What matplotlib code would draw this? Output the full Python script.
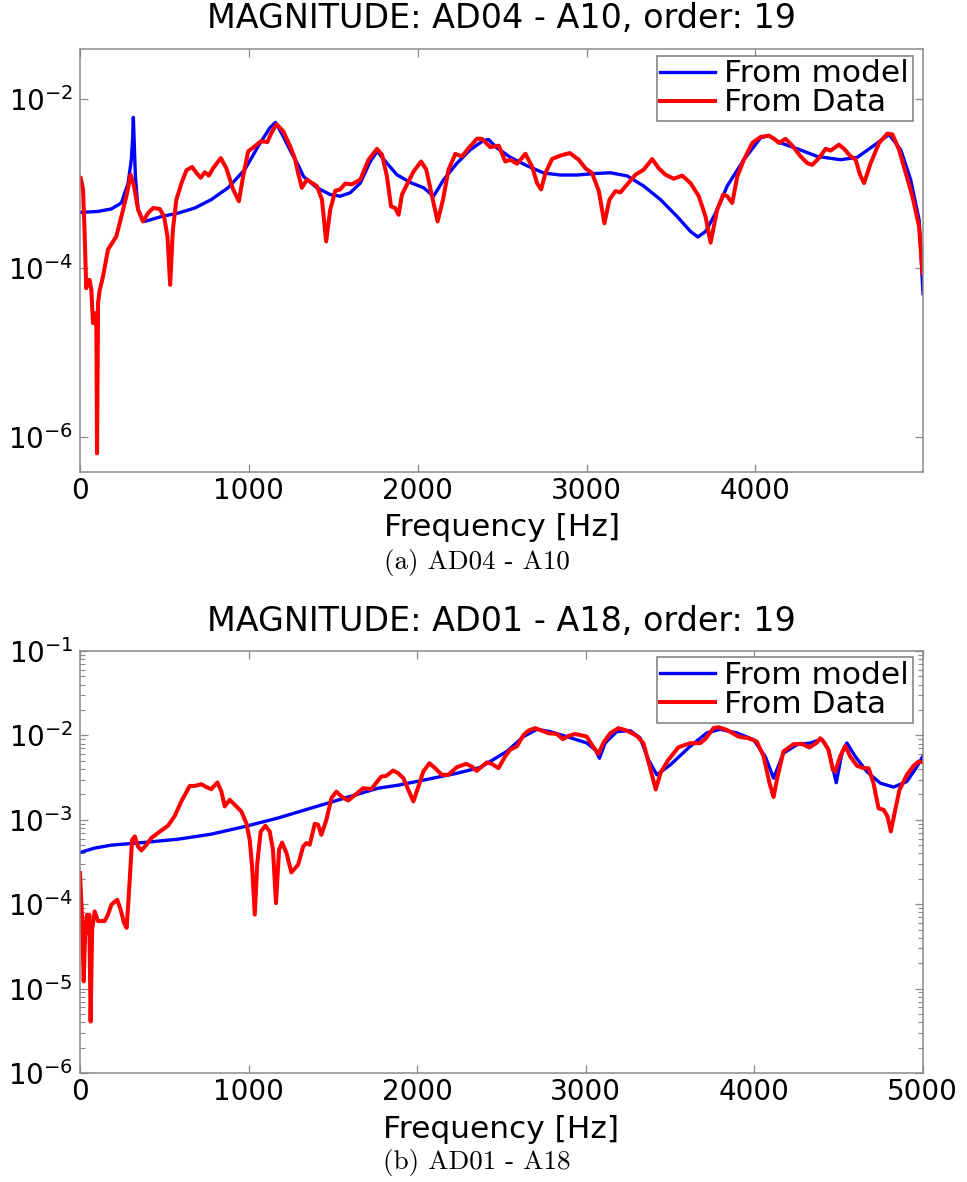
import matplotlib
matplotlib.use("Agg")
import matplotlib.pyplot as plt
from matplotlib.ticker import FixedLocator, LogLocator, NullLocator, NullFormatter

# ---------------------------------------------------------------- data
# (a) AD04 - A10 : identified model vs. measured FRF magnitude
freq_a_model = [0, 107, 186, 245, 285, 304, 312, 316, 320, 328,
                344, 373, 383, 482, 581, 680, 778, 877, 976, 1055,
                1124, 1158, 1203, 1253, 1292, 1324, 1403, 1482, 1541, 1600,
                1660, 1719, 1760, 1818, 1877, 1956, 2035, 2094, 2154, 2233,
                2312, 2391, 2420, 2470, 2549, 2648, 2747, 2845, 2944, 3043,
                3142, 3241, 3339, 3438, 3537, 3616, 3660, 3705, 3754, 3794,
                3833, 3932, 4031, 4080, 4150, 4249, 4367, 4505, 4604, 4703,
                4792, 4861, 4920, 4970, 4993]
mag_a_model = [4.55e-4, 4.68e-4, 5.01e-4, 5.89e-4, 1.01e-3, 1.91e-3, 3.55e-3, 6.05e-3, 3.55e-3, 1.21e-3,
               4.90e-4, 3.66e-4, 3.56e-4, 4.07e-4, 4.47e-4, 5.13e-4, 6.46e-4, 8.91e-4, 1.46e-3, 2.75e-3,
               4.54e-3, 5.28e-3, 3.63e-3, 2.29e-3, 1.66e-3, 1.21e-3, 8.91e-4, 7.41e-4, 7.08e-4, 7.76e-4,
               1.01e-3, 1.82e-3, 2.40e-3, 1.74e-3, 1.27e-3, 1.03e-3, 8.91e-4, 7.08e-4, 1.11e-3, 1.74e-3,
               2.51e-3, 3.24e-3, 3.31e-3, 2.63e-3, 2.04e-3, 1.62e-3, 1.33e-3, 1.26e-3, 1.26e-3, 1.31e-3,
               1.34e-3, 1.23e-3, 9.33e-4, 6.46e-4, 4.07e-4, 2.71e-4, 2.33e-4, 2.71e-4, 4.07e-4, 6.03e-4,
               9.33e-4, 1.91e-3, 3.47e-3, 3.68e-3, 3.02e-3, 2.57e-3, 2.09e-3, 1.91e-3, 2.04e-3, 2.82e-3,
               3.80e-3, 2.51e-3, 1.11e-3, 3.72e-4, 5.01e-5]

freq_a_data = [4, 18, 28, 37, 47, 57, 67, 77, 87, 97,
               101, 107, 117, 136, 166, 196, 215, 245, 275, 300,
               320, 344, 373, 403, 433, 472, 498, 518, 534, 550,
               571, 601, 630, 664, 690, 715, 739, 763, 788, 834,
               867, 907, 941, 966, 996, 1035, 1071, 1110, 1134, 1164,
               1203, 1245, 1275, 1292, 1314, 1344, 1403, 1433, 1458, 1482,
               1512, 1541, 1571, 1610, 1660, 1709, 1759, 1789, 1818, 1842,
               1867, 1887, 1907, 1937, 1976, 2020, 2051, 2085, 2118, 2150,
               2183, 2223, 2263, 2302, 2352, 2381, 2430, 2480, 2519, 2549,
               2589, 2638, 2678, 2707, 2731, 2757, 2796, 2845, 2901, 2954,
               2994, 3033, 3073, 3106, 3136, 3171, 3201, 3241, 3290, 3339,
               3389, 3428, 3468, 3517, 3567, 3616, 3665, 3705, 3735, 3774,
               3810, 3833, 3863, 3893, 3932, 3982, 4031, 4080, 4110, 4139,
               4179, 4219, 4268, 4308, 4337, 4377, 4416, 4446, 4495, 4525,
               4565, 4594, 4620, 4644, 4683, 4733, 4782, 4812, 4851, 4891,
               4930, 4970, 4990]
mag_a_data = [1.16e-3, 8.51e-4, 2.37e-4, 5.79e-5, 7.24e-5, 7.24e-5, 5.53e-5, 2.24e-5, 2.95e-5, 2.04e-5,
              6.46e-7, 3.89e-5, 5.53e-5, 7.94e-5, 1.66e-4, 2.07e-4, 2.37e-4, 4.07e-4, 7.08e-4, 1.27e-3,
              9.33e-4, 4.90e-4, 3.56e-4, 4.47e-4, 5.13e-4, 5.01e-4, 4.07e-4, 2.37e-4, 6.34e-5, 2.84e-4,
              6.46e-4, 1.01e-3, 1.43e-3, 1.57e-3, 1.33e-3, 1.17e-3, 1.36e-3, 1.24e-3, 1.51e-3, 2.00e-3,
              1.51e-3, 8.51e-4, 6.17e-4, 1.21e-3, 2.40e-3, 2.75e-3, 3.16e-3, 3.09e-3, 3.98e-3, 5.01e-3,
              4.17e-3, 2.75e-3, 1.91e-3, 1.32e-3, 8.91e-4, 1.11e-3, 9.33e-4, 6.46e-4, 2.07e-4, 4.90e-4,
              8.22e-4, 8.51e-4, 1.00e-3, 9.77e-4, 1.11e-3, 1.91e-3, 2.57e-3, 2.19e-3, 1.21e-3, 5.37e-4,
              5.13e-4, 4.27e-4, 7.41e-4, 9.77e-4, 1.39e-3, 1.82e-3, 1.46e-3, 7.08e-4, 3.56e-4, 6.46e-4,
              1.46e-3, 2.24e-3, 2.09e-3, 2.63e-3, 3.39e-3, 3.37e-3, 2.69e-3, 2.80e-3, 1.82e-3, 1.91e-3,
              1.71e-3, 2.25e-3, 1.58e-3, 1.01e-3, 8.51e-4, 1.33e-3, 1.95e-3, 2.14e-3, 2.29e-3, 1.91e-3,
              1.51e-3, 1.33e-3, 8.13e-4, 3.39e-4, 6.46e-4, 8.13e-4, 7.85e-4, 9.77e-4, 1.27e-3, 1.46e-3,
              1.95e-3, 1.51e-3, 1.27e-3, 1.14e-3, 1.24e-3, 1.01e-3, 7.08e-4, 4.07e-4, 2.00e-4, 4.90e-4,
              7.41e-4, 7.08e-4, 5.89e-4, 1.21e-3, 1.91e-3, 3.02e-3, 3.55e-3, 3.68e-3, 3.39e-3, 3.02e-3,
              3.37e-3, 2.80e-3, 2.09e-3, 1.74e-3, 1.66e-3, 2.00e-3, 2.57e-3, 2.45e-3, 2.88e-3, 2.57e-3,
              2.09e-3, 1.91e-3, 1.27e-3, 1.01e-3, 1.74e-3, 3.02e-3, 3.89e-3, 3.80e-3, 2.51e-3, 1.33e-3,
              7.08e-4, 3.09e-4, 8.71e-5]

# (b) AD01 - A18
freq_b_model = [0, 87, 186, 384, 582, 779, 977, 1175, 1373, 1571,
                1769, 1887, 2037, 2236, 2374, 2433, 2533, 2631, 2711, 2789,
                2888, 3007, 3057, 3082, 3116, 3185, 3264, 3323, 3373, 3423,
                3502, 3620, 3719, 3798, 3897, 3996, 4066, 4115, 4174, 4254,
                4333, 4402, 4441, 4487, 4521, 4550, 4600, 4669, 4748, 4827,
                4906, 4966, 5000]
mag_b_model = [4.10e-4, 4.62e-4, 5.01e-4, 5.40e-4, 5.89e-4, 6.76e-4, 8.32e-4, 1.05e-3, 1.38e-3, 1.81e-3,
               2.37e-3, 2.57e-3, 2.95e-3, 3.56e-3, 4.17e-3, 4.90e-3, 6.46e-3, 9.68e-3, 1.18e-2, 1.11e-2,
               9.68e-3, 8.13e-3, 6.76e-3, 5.37e-3, 8.13e-3, 1.11e-2, 1.14e-2, 9.33e-3, 5.13e-3, 3.41e-3,
               4.47e-3, 7.41e-3, 1.07e-2, 1.18e-2, 1.07e-2, 8.91e-3, 5.62e-3, 3.11e-3, 6.17e-3, 7.76e-3,
               8.13e-3, 9.02e-3, 6.76e-3, 2.75e-3, 6.17e-3, 8.13e-3, 5.62e-3, 3.72e-3, 2.72e-3, 2.44e-3,
               2.84e-3, 4.27e-3, 5.62e-3]

freq_b_data = [0, 12, 22, 32, 42, 49, 55, 63, 72, 87,
               107, 146, 166, 186, 221, 241, 261, 277, 295, 309,
               325, 344, 364, 394, 423, 473, 522, 562, 601, 651,
               681, 720, 750, 779, 815, 839, 859, 888, 918, 957,
               987, 1007, 1021, 1037, 1052, 1072, 1100, 1126, 1145, 1163,
               1181, 1199, 1225, 1254, 1294, 1324, 1343, 1363, 1393, 1413,
               1432, 1462, 1492, 1521, 1551, 1591, 1640, 1680, 1729, 1759,
               1788, 1818, 1858, 1887, 1919, 1948, 1978, 2008, 2037, 2073,
               2107, 2147, 2186, 2236, 2291, 2325, 2354, 2384, 2414, 2443,
               2483, 2522, 2552, 2592, 2631, 2661, 2700, 2740, 2780, 2829,
               2865, 2898, 2938, 3007, 3037, 3076, 3106, 3146, 3195, 3245,
               3304, 3343, 3383, 3416, 3445, 3491, 3551, 3620, 3680, 3709,
               3759, 3788, 3838, 3907, 3966, 4016, 4056, 4091, 4115, 4139,
               4174, 4234, 4283, 4328, 4372, 4392, 4412, 4441, 4467, 4481,
               4510, 4540, 4570, 4610, 4649, 4679, 4708, 4738, 4768, 4791,
               4811, 4837, 4862, 4906, 4946, 4976, 5000]
mag_b_data = [2.34e-4, 7.18e-5, 1.22e-5, 5.50e-5, 7.52e-5, 4.57e-5, 7.52e-5, 4.07e-6, 5.01e-5, 8.22e-5,
              6.31e-5, 6.31e-5, 7.52e-5, 9.86e-5, 1.13e-4, 8.61e-5, 6.03e-5, 5.25e-5, 1.95e-4, 5.79e-4,
              6.35e-4, 4.83e-4, 4.34e-4, 5.06e-4, 6.07e-4, 7.24e-4, 8.51e-4, 1.11e-3, 1.65e-3, 2.52e-3,
              2.52e-3, 2.64e-3, 2.44e-3, 2.31e-3, 2.77e-3, 2.16e-3, 1.44e-3, 1.73e-3, 1.51e-3, 1.26e-3,
              9.12e-4, 5.79e-4, 2.80e-4, 7.52e-5, 3.09e-4, 7.24e-4, 8.51e-4, 7.24e-4, 4.42e-4, 1.03e-4,
              4.42e-4, 5.37e-4, 4.04e-4, 2.38e-4, 2.93e-4, 4.83e-4, 5.30e-4, 5.06e-4, 8.97e-4, 8.73e-4,
              6.64e-4, 1.00e-3, 1.81e-3, 2.16e-3, 1.89e-3, 1.69e-3, 2.03e-3, 2.37e-3, 2.31e-3, 2.77e-3,
              3.26e-3, 3.32e-3, 3.84e-3, 3.57e-3, 3.11e-3, 2.26e-3, 1.65e-3, 2.48e-3, 3.73e-3, 4.68e-3,
              4.09e-3, 3.41e-3, 3.41e-3, 4.21e-3, 4.60e-3, 4.27e-3, 3.80e-3, 4.27e-3, 4.79e-3, 4.60e-3,
              4.09e-3, 5.62e-3, 6.76e-3, 7.41e-3, 1.01e-2, 1.14e-2, 1.22e-2, 1.14e-2, 1.06e-2, 1.04e-2,
              9.02e-3, 9.86e-3, 1.04e-2, 9.68e-3, 7.73e-3, 6.04e-3, 8.22e-3, 1.06e-2, 1.22e-2, 1.14e-2,
              9.86e-3, 8.09e-3, 4.09e-3, 2.29e-3, 3.63e-3, 5.13e-3, 7.24e-3, 8.09e-3, 8.09e-3, 9.02e-3,
              1.22e-2, 1.25e-2, 1.16e-2, 9.68e-3, 9.25e-3, 8.45e-3, 5.62e-3, 2.72e-3, 1.86e-3, 3.26e-3,
              6.46e-3, 7.87e-3, 7.94e-3, 7.18e-3, 8.22e-3, 9.25e-3, 8.45e-3, 6.76e-3, 3.91e-3, 3.73e-3,
              5.62e-3, 7.52e-3, 5.62e-3, 4.37e-3, 4.09e-3, 4.09e-3, 2.72e-3, 1.37e-3, 1.31e-3, 1.10e-3,
              7.28e-4, 1.31e-3, 2.26e-3, 3.41e-3, 4.37e-3, 4.90e-3, 4.79e-3]

titles = ["MAGNITUDE: AD04 - A10, order: 19", "MAGNITUDE: AD01 - A18, order: 19"]
captions = ["(a) AD04 - A10", "(b) AD01 - A18"]
legend_labels = ["From model", "From Data"]
xlabel = "Frequency [Hz]"

# ---------------------------------------------------------------- style
plt.rcParams["font.family"] = ["DejaVu Sans"]
plt.rcParams["mathtext.fontset"] = "dejavusans"
plt.rcParams["axes.unicode_minus"] = False

W, H = 967, 1182
fig = plt.figure(figsize=(W / 100, H / 100), dpi=100)
fig.patch.set_facecolor("white")

FRAME = "#8a8a8a"
TICK_FS = 20
LABEL_FS = 22.5
TITLE_FS = 24
LEGEND_FS = 22.5
CAPTION_FS = 19.5
BLUE_LW = 2.4
RED_LW = 2.9


def px_box(left, top, right, bottom):
    return [left / W, 1 - bottom / H, (right - left) / W, (bottom - top) / H]


def style_axes(ax):
    ax.set_yscale("log")
    for sp in ax.spines.values():
        sp.set_color(FRAME)
        sp.set_linewidth(1.1)
    ax.tick_params(which="both", direction="in", top=True, right=True,
                   color=FRAME, labelcolor="black", labelsize=TICK_FS)
    ax.tick_params(which="major", length=6, width=0.9)
    ax.tick_params(which="minor", length=3.5, width=0.8)
    ax.tick_params(axis="x", pad=3.5)
    ax.tick_params(axis="y", pad=5)


def add_legend(ax, top_px):
    leg = ax.legend(legend_labels, loc="upper right",
                    bbox_to_anchor=(913 / W, 1 - top_px / H),
                    bbox_transform=fig.transFigure, borderaxespad=0,
                    fontsize=LEGEND_FS, frameon=True, fancybox=False,
                    edgecolor="#7a7a7a", framealpha=1, handlelength=1.75,
                    handletextpad=0.3, labelspacing=0.0, borderpad=0.12)
    leg.get_frame().set_linewidth(1.1)
    return leg


# ---------------------------------------------------------------- (a)
ax1 = fig.add_axes(px_box(80, 49, 923, 472))
style_axes(ax1)
ax1.plot(freq_a_model, mag_a_model, color=(0, 0, 1), lw=BLUE_LW)
ax1.plot(freq_a_data, mag_a_data, color=(1, 0, 0), lw=RED_LW)
ax1.set_xlim(0, 4993)
ax1.set_ylim(10 ** -6.41, 10 ** -1.41)
ax1.xaxis.set_major_locator(FixedLocator([0, 1000, 2000, 3000, 4000]))
ax1.yaxis.set_major_locator(FixedLocator([1e-6, 1e-4, 1e-2]))
ax1.yaxis.set_minor_locator(NullLocator())
ax1.set_xlabel(xlabel, fontsize=LABEL_FS)
ax1.xaxis.set_label_coords(0.5, (472 - 528) / 423)
ax1.xaxis.label.set_va("center")
add_legend(ax1, 55.7)

# ---------------------------------------------------------------- (b)
ax2 = fig.add_axes(px_box(80, 651, 922.7, 1073))
style_axes(ax2)
ax2.plot(freq_b_model, mag_b_model, color=(0, 0, 1), lw=BLUE_LW)
ax2.plot(freq_b_data, mag_b_data, color=(1, 0, 0), lw=RED_LW)
ax2.set_xlim(0, 5000)
ax2.set_ylim(1e-6, 1e-1)
ax2.xaxis.set_major_locator(FixedLocator([0, 1000, 2000, 3000, 4000, 5000]))
ax2.yaxis.set_major_locator(LogLocator(base=10, numticks=10))
ax2.yaxis.set_minor_locator(LogLocator(base=10, subs=range(2, 10), numticks=20))
ax2.yaxis.set_minor_formatter(NullFormatter())
ax2.set_xlabel(xlabel, fontsize=LABEL_FS)
ax2.xaxis.set_label_coords(0.5, (1073 - 1129) / 422)
ax2.xaxis.label.set_va("center")
add_legend(ax2, 657.3)

# ---------------------------------------------------------------- titles and captions
fig.text(501.5 / W, 1 - 19 / H, titles[0], ha="center", va="center", fontsize=TITLE_FS)
fig.text(501.5 / W, 1 - 622 / H, titles[1], ha="center", va="center", fontsize=TITLE_FS)
fig.text(477 / W, 1 - 563 / H, captions[0], ha="center", va="center",
         fontsize=CAPTION_FS, family="cmr10")
fig.text(477 / W, 1 - 1163 / H, captions[1], ha="center", va="center",
         fontsize=CAPTION_FS, family="cmr10")

fig.savefig("out.png", dpi=100, facecolor="white")
